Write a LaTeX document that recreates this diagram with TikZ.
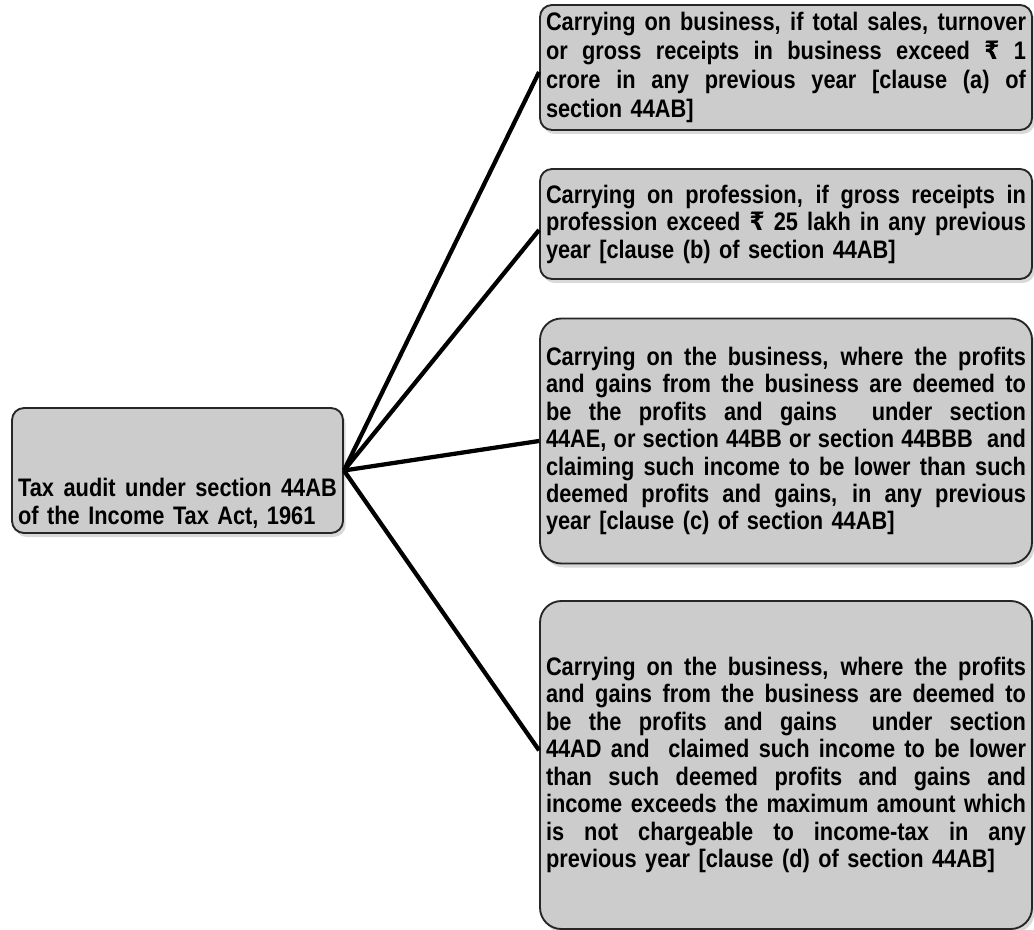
\documentclass[tikz,border=0pt]{standalone}
\usepackage{fontspec}
\setmainfont{Liberation Sans}[FakeStretch=0.86]
\newfontfamily\rupeefont{DejaVu Sans}[FakeStretch=0.86]
\usetikzlibrary{shadows}

\providecommand{\JLine}[1]{\noindent\hbox to\linewidth{\spaceskip=0.26em plus 1fil minus 0.12em\relax #1}\par}
\providecommand{\LastLine}[1]{\noindent#1\par}
\providecommand{\Rupee}{{\rupeefont\bfseries\char"20B9}}

\tikzset{
  clausebox/.style={draw=black!85, line width=1.4pt, fill=black!20,
    rounded corners=#1, inner xsep=4.5pt, inner ysep=0pt,
    text width=360pt, minimum width=369pt, align=left,
    font=\bfseries\fontsize{19}{20.6}\selectfont,
    drop shadow={shadow xshift=2pt, shadow yshift=-3pt, opacity=0.3}},
  clausebox/.default=9pt,
  link/.style={line width=3.2pt, black}
}

\begin{document}
\begin{tikzpicture}[x=0.75pt,y=-0.75pt]
\useasboundingbox (0,0) rectangle (1034,930);

\node[clausebox, text width=239pt, minimum width=248.25pt, minimum height=93.75pt] (root) at (177.5,470.5) {%
\vspace*{42pt}
\JLine{Tax audit under section 44AB}
\LastLine{of the Income Tax Act, 1961}};

\node[clausebox, minimum height=93.75pt, font=\bfseries\fontsize{19}{21.6}\selectfont] (clauseA) at (786,67.5) {%
\JLine{Carrying on business, if total sales, turnover}
\JLine{or gross receipts in business exceed \Rupee{} 1}
\JLine{crore in any previous year [clause (a) of}
\LastLine{section 44AB]}};

\node[clausebox, minimum height=82.5pt] (clauseB) at (786,224) {%
\JLine{Carrying on profession, if gross receipts in}
\JLine{profession exceed \Rupee{} 25 lakh in any previous}
\LastLine{year [clause (b) of section 44AB]}};

\node[clausebox=16pt, minimum height=183.75pt] (clauseC) at (786,441) {%
\JLine{Carrying on the business, where the profits}
\JLine{and gains from the business are deemed to}
\JLine{be the profits and gains\ \ under section}
\JLine{44AE, or section 44BB or section 44BBB\ \ and}
\JLine{claiming such income to be lower than such}
\JLine{deemed profits and gains, in any previous}
\LastLine{year [clause (c) of section 44AB]}};

\node[clausebox=16pt, minimum height=246pt] (clauseD) at (786,765) {%
\JLine{Carrying on the business, where the profits}
\JLine{and gains from the business are deemed to}
\JLine{be the profits and gains\ \ under section}
\JLine{44AD and\ \ claimed such income to be lower}
\JLine{than such deemed profits and gains and}
\JLine{income exceeds the maximum amount which}
\JLine{is not chargeable to income-tax in any}
\LastLine{previous year [clause (d) of section 44AB]}};

\draw[link] (root.east) -- ([yshift=-3.4pt]clauseA.west);
\draw[link] (root.east) -- ([yshift=-4.5pt]clauseB.west);
\draw[link] (root.east) -- (clauseC.west);
\draw[link] (root.east) -- ([yshift=11pt]clauseD.west);
\end{tikzpicture}
\end{document}
